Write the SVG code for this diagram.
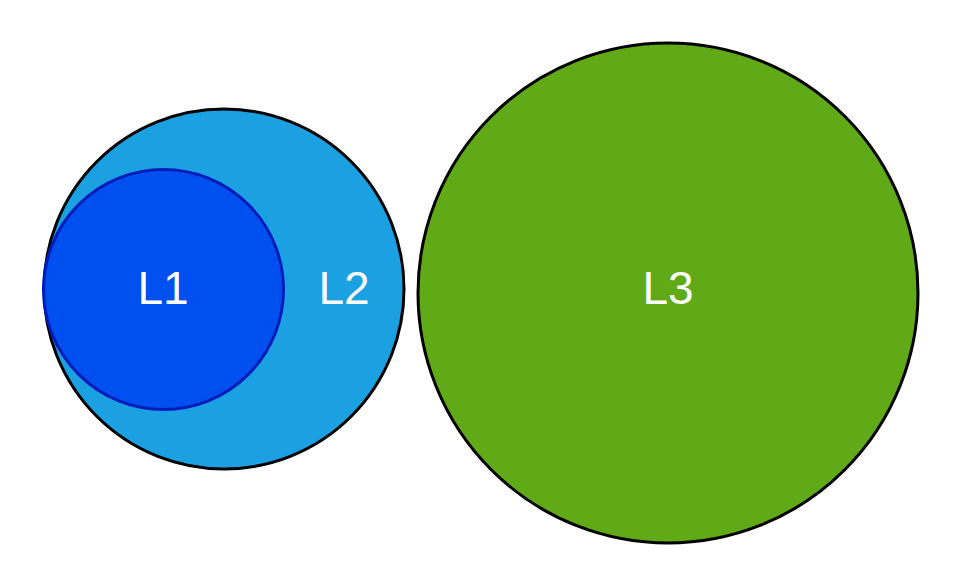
<svg xmlns="http://www.w3.org/2000/svg" width="960" height="584" viewBox="0 0 960 584">
<style>
text{font-family:"Liberation Sans",Arial,sans-serif;font-size:46px;fill:#ffffff;text-anchor:middle;}
.outer{stroke:#000000;stroke-width:3;}
</style>
<rect width="960" height="584" fill="#ffffff"/>
<g id="L2">
<circle class="outer" cx="224" cy="289" r="180" fill="#1ba1e2"/>
<text x="344" y="304">L2</text>
</g>
<g id="L1">
<circle cx="163.5" cy="289.5" r="120" fill="#0050ef" stroke="#001dbc" stroke-width="3"/>
<text x="163" y="304">L1</text>
</g>
<g id="L3">
<circle class="outer" cx="668" cy="293" r="250" fill="#60a917"/>
<text x="668" y="304">L3</text>
</g>
<g id="connectors"/>
</svg>
